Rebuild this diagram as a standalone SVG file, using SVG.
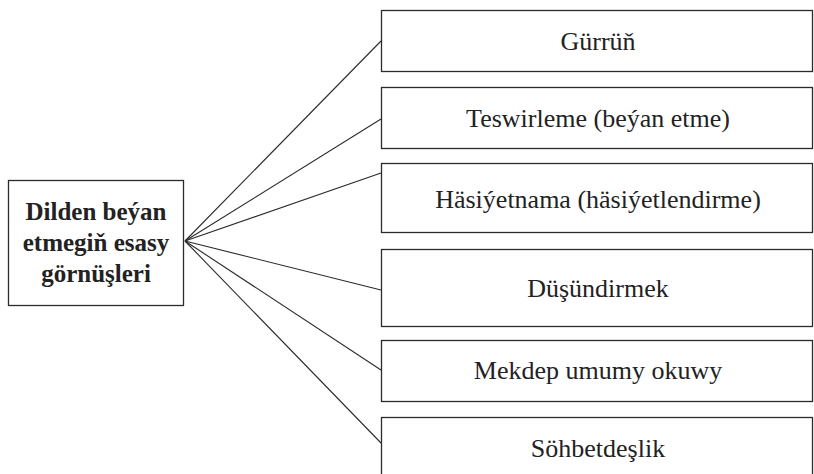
<svg xmlns="http://www.w3.org/2000/svg" width="814" height="474" viewBox="0 0 814 474">
<style>
.nodebox{fill:#fff;stroke:#2b2b2b;stroke-width:1.3}
.nodelabel{font-size:26px;fill:#222;text-anchor:middle}
.rootlabel{font-weight:bold;font-size:25px;fill:#222;text-anchor:middle}
.edge{stroke:#2b2b2b;stroke-width:1.1;fill:none}
</style>
<rect width="814" height="474" fill="#fff"/>
<g id="edges">
<line class="edge" x1="185" y1="241" x2="381" y2="41"/>
<line class="edge" x1="185" y1="241" x2="381" y2="119"/>
<line class="edge" x1="185" y1="241" x2="381" y2="173"/>
<line class="edge" x1="185" y1="241" x2="381" y2="290"/>
<line class="edge" x1="185" y1="241" x2="381" y2="370"/>
<line class="edge" x1="185" y1="241" x2="381" y2="443"/>
</g>
<g id="node-main" font-family="Times New Roman">
<rect class="nodebox" x="8.5" y="180.5" width="175" height="125"/>
<text class="rootlabel" x="96" y="220">Dilden beýan</text>
<text class="rootlabel" x="96" y="251">etmegiň esasy</text>
<text class="rootlabel" x="96" y="282">görnüşleri</text>
</g>
<g id="node-1" font-family="Times New Roman">
<rect class="nodebox" x="381.5" y="10.5" width="431" height="61"/>
<text class="nodelabel" x="598" y="50">Gürrüň</text>
</g>
<g id="node-2" font-family="Times New Roman">
<rect class="nodebox" x="381.5" y="87.5" width="431" height="61"/>
<text class="nodelabel" x="598" y="127">Teswirleme (beýan etme)</text>
</g>
<g id="node-3" font-family="Times New Roman">
<rect class="nodebox" x="381.5" y="163.5" width="431" height="69"/>
<text class="nodelabel" x="598" y="208">Häsiýetnama (häsiýetlendirme)</text>
</g>
<g id="node-4" font-family="Times New Roman">
<rect class="nodebox" x="381.5" y="249.5" width="431" height="77"/>
<text class="nodelabel" x="598" y="297">Düşündirmek</text>
</g>
<g id="node-5" font-family="Times New Roman">
<rect class="nodebox" x="381.5" y="340.5" width="431" height="61"/>
<text class="nodelabel" x="598" y="379">Mekdep umumy okuwy</text>
</g>
<g id="node-6" font-family="Times New Roman">
<rect class="nodebox" x="381.5" y="417.5" width="431" height="70"/>
<text class="nodelabel" x="598" y="457">Söhbetdeşlik</text>
</g>
</svg>
